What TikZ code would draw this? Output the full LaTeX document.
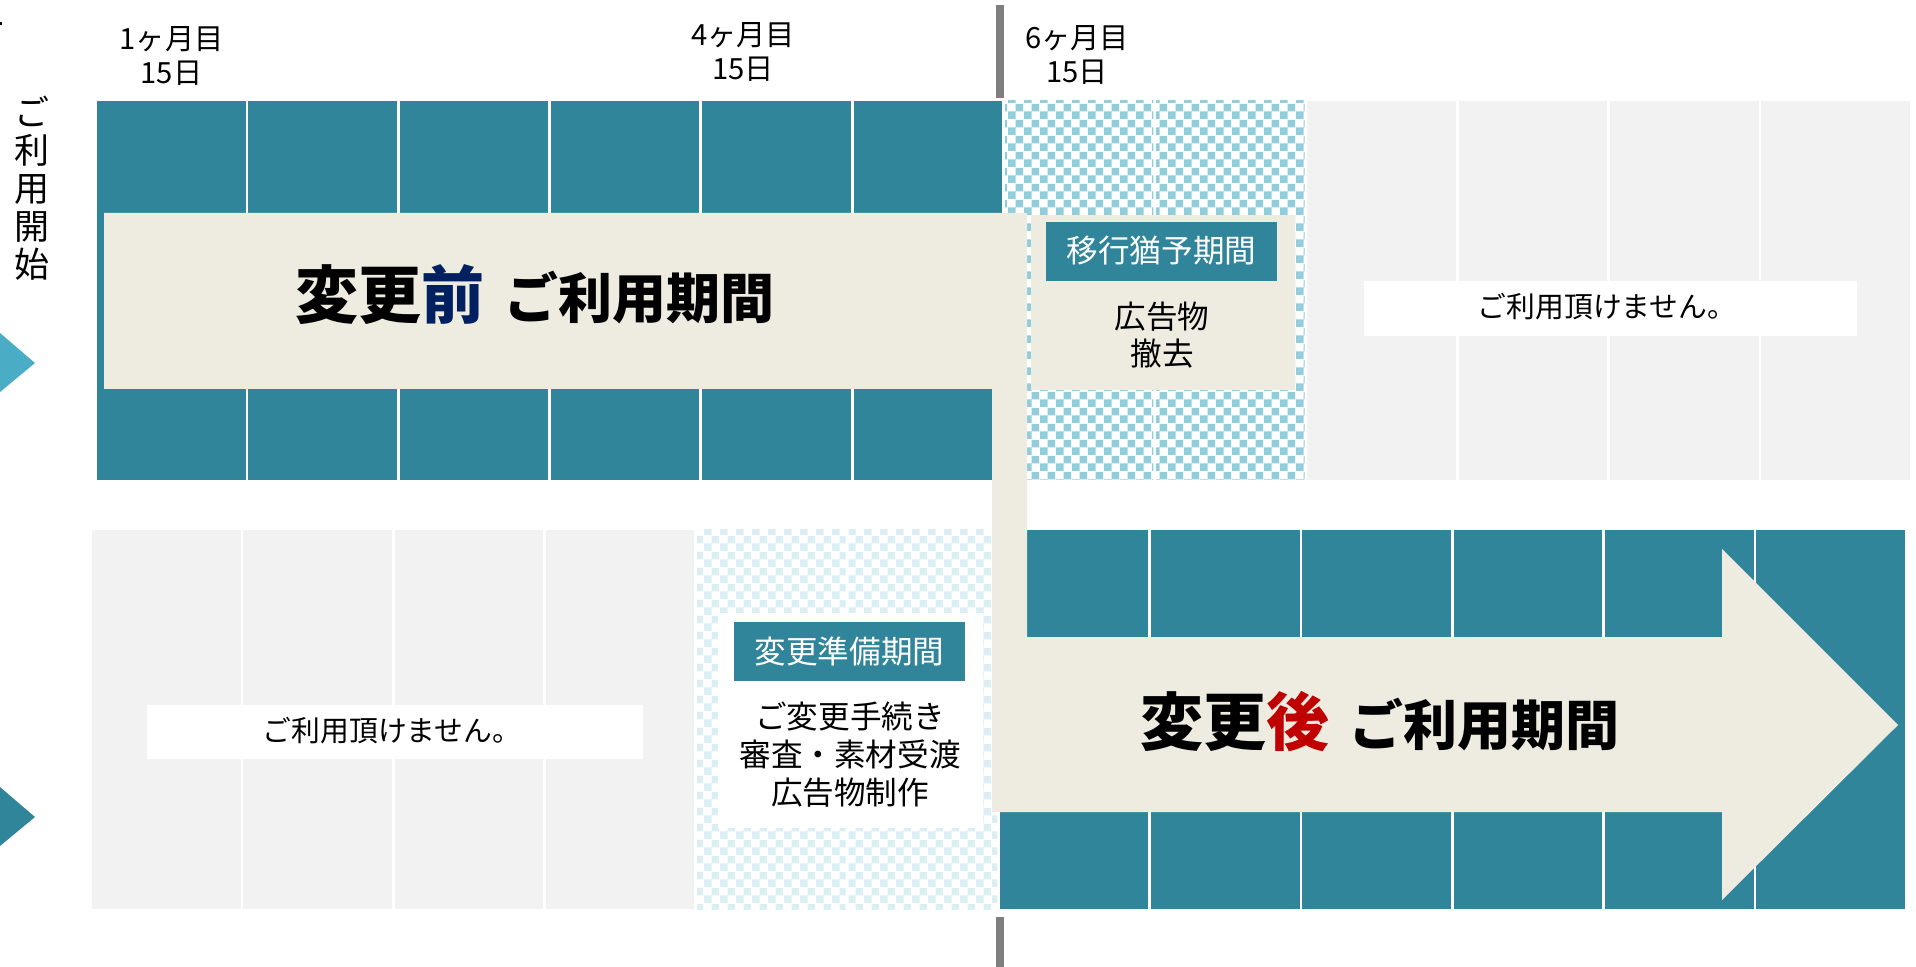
\documentclass[tikz,border=0pt]{standalone}
\usepackage{fontspec}
\setmainfont{Noto Sans CJK JP}
\usetikzlibrary{patterns}
\definecolor{tealc}{RGB}{49,133,155}
\definecolor{chkA}{RGB}{146,205,220}
\definecolor{chkB}{RGB}{218,238,243}
\definecolor{beigec}{RGB}{238,236,225}
\definecolor{grayc}{RGB}{242,242,242}
\definecolor{navyc}{RGB}{0,32,96}
\definecolor{redc}{RGB}{192,0,0}
\definecolor{linec}{RGB}{127,127,127}
\definecolor{triA}{RGB}{75,172,198}
\pgfdeclarepatternformonly{chk}{\pgfqpoint{0pt}{0pt}}{\pgfqpoint{8pt}{8pt}}{\pgfqpoint{8pt}{8pt}}{%
  \pgfpathrectangle{\pgfqpoint{0pt}{0pt}}{\pgfqpoint{4pt}{4pt}}%
  \pgfpathrectangle{\pgfqpoint{4pt}{4pt}}{\pgfqpoint{4pt}{4pt}}%
  \pgfusepath{fill}}
\newcommand{\bigA}{\fontsize{31.5pt}{33pt}\selectfont}
\newcommand{\bigB}{\fontsize{27pt}{33pt}\selectfont}
\tikzset{
  monthlbl/.style={align=center, inner sep=0pt, font=\fontsize{14.6pt}{17pt}\selectfont},
  bigtxt/.style={inner sep=0pt, font=\bfseries},
  tagtxt/.style={inner sep=0pt, text=white, font=\fontsize{15.8pt}{18pt}\selectfont},
  bodytxt/.style={align=center, inner sep=0pt, font=\fontsize{15.8pt}{19pt}\selectfont},
  natxt/.style={inner sep=0pt, font=\fontsize{14.4pt}{16pt}\selectfont},
}
\begin{document}
\begin{tikzpicture}[x=0.5pt,y=-0.5pt]
\useasboundingbox (0,0) rectangle (1916,967);
\clip (0,0) rectangle (1916,967);
% top row cells
\foreach \k in {0,...,5}
  \fill[tealc] ({97+151.3*\k},101) rectangle ({97+151.3*\k+148.5},480);
\foreach \k in {6,7}{
  \fill[white] ({97+151.3*\k},101) rectangle ({97+151.3*\k+148.5},480);
  \fill[pattern=chk, pattern color=chkA] ({97+151.3*\k},101) rectangle ({97+151.3*\k+148.5},480);}
\foreach \k in {8,...,11}
  \fill[grayc] ({97+151.3*\k},101) rectangle ({97+151.3*\k+148.5},480);
% bottom row cells
\foreach \k in {0,...,3}
  \fill[grayc] ({92+151.3*\k},530) rectangle ({92+151.3*\k+148.5},909);
\foreach \k in {4,5}{
  \fill[white] ({92+151.3*\k},530) rectangle ({92+151.3*\k+148.5},909);
  \fill[pattern=chk, pattern color=chkB] ({92+151.3*\k},530) rectangle ({92+151.3*\k+148.5},909);}
\foreach \k in {6,...,11}
  \fill[tealc] ({92+151.3*\k},530) rectangle ({92+151.3*\k+148.5},909);
% beige bent arrow
\fill[beigec] (104,213) -- (1027,213) -- (1027,637) -- (1722,637) -- (1722,549)
  -- (1898,725) -- (1722,900) -- (1722,812) -- (992,812) -- (992,389) -- (104,389) -- cycle;
% big labels
\node[bigtxt] (before) at (535,295) {{\bigA 変更\textcolor{navyc}{前}}\hspace{10pt}{\bigB ご利用期間}};
\node[bigtxt] (after) at (1380,722) {{\bigA 変更\textcolor{redc}{後}}\hspace{10pt}{\bigB ご利用期間}};
% grace period box
\fill[beigec] (1031,215) rectangle (1295,390);
\fill[tealc] (1046,222) rectangle (1277,281);
\node[tagtxt] (grace) at (1161.5,251) {移行猶予期間};
\node[bodytxt, font=\fontsize{15.8pt}{18.5pt}\selectfont] (remove) at (1162,335) {広告物\\撤去};
% preparation box
\fill[white] (718,613) rectangle (983,828);
\fill[tealc] (734,622) rectangle (965,681);
\node[tagtxt] (prep) at (849.5,651) {変更準備期間};
\node[bodytxt] (steps) at (850,755) {ご変更手続き\\審査・素材受渡\\広告物制作};
% not available boxes
\fill[white] (1364,281) rectangle (1857,336);
\node[natxt] (na1) at (1607,307) {ご利用頂けません。};
\fill[white] (147,705) rectangle (643,759);
\node[natxt] (na2) at (392,731) {ご利用頂けません。};
% month labels
\node[monthlbl] (m1) at (171.5,56) {1ヶ月目\\15日};
\node[monthlbl] (m4) at (743,52) {4ヶ月目\\15日};
\node[monthlbl] (m6) at (1077,55) {6ヶ月目\\15日};
% vertical label
\node[align=center, inner sep=0pt, font=\fontsize{17.5pt}{19pt}\selectfont] (start) at (32,188) {ご\\利\\用\\開\\始};
% gray marker lines
\fill[linec] (996,5) rectangle (1004,98);
\fill[linec] (996,917) rectangle (1004,967);
% left triangles
\fill[triA] (0,333) -- (35,363) -- (0,392) -- cycle;
\fill[tealc] (0,787) -- (35,817) -- (0,846) -- cycle;
% clipped mark
\fill[black] (0,22) rectangle (2,25);
\end{tikzpicture}
\end{document}
